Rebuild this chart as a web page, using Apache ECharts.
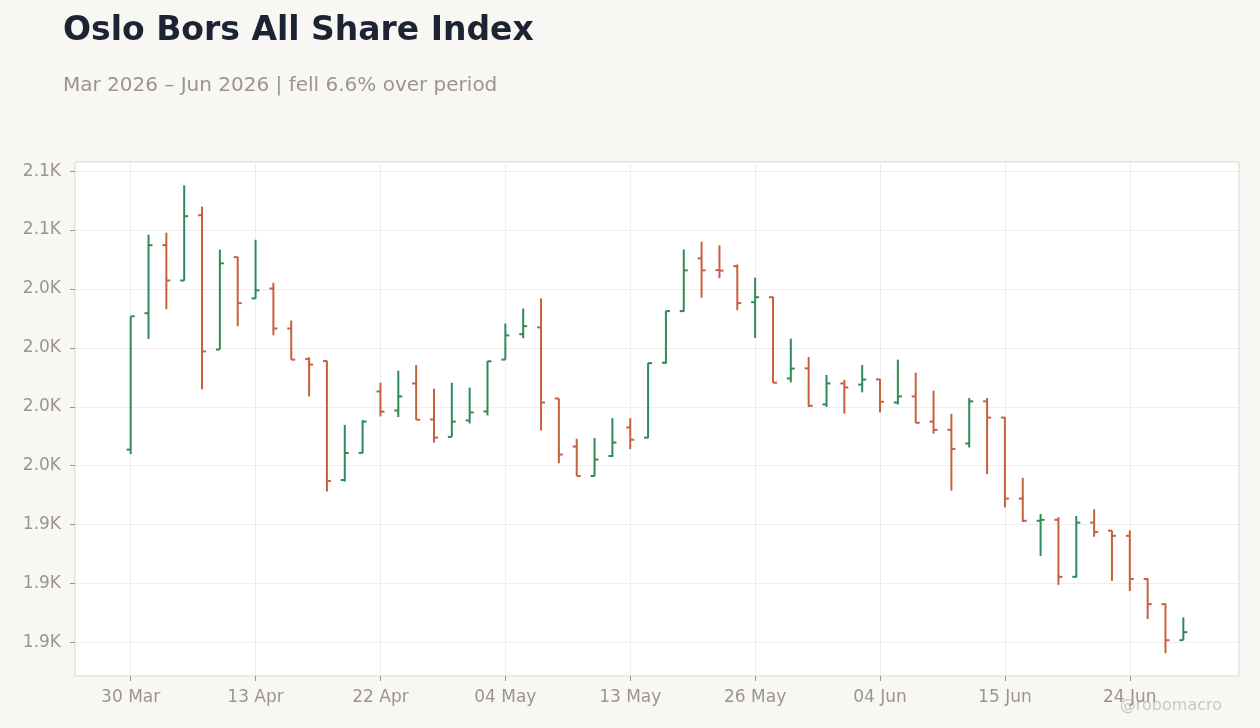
<!DOCTYPE html>
<html>
<head>
<meta charset="utf-8">
<title>Oslo Bors All Share Index</title>
<script src="https://cdn.jsdelivr.net/npm/echarts@6/dist/echarts.min.js"></script>
<style>
  html, body { margin: 0; padding: 0; background: #f8f7f4; }
  #ohlcChart { width: 1260px; height: 728px; }
</style>
</head>
<body>
<div id="ohlcChart"></div>
<script>
// trading days shown on the x axis
const dates = [
  '30 Mar', '31 Mar', '01 Apr', '07 Apr', '08 Apr', '09 Apr', '10 Apr',
  '13 Apr', '14 Apr', '15 Apr', '16 Apr', '17 Apr', '20 Apr', '21 Apr',
  '22 Apr', '23 Apr', '24 Apr', '27 Apr', '28 Apr', '29 Apr', '30 Apr',
  '04 May', '05 May', '06 May', '07 May', '08 May', '11 May', '12 May',
  '13 May', '15 May', '18 May', '19 May', '20 May', '21 May', '22 May',
  '26 May', '27 May', '28 May', '29 May', '01 Jun', '02 Jun', '03 Jun',
  '04 Jun', '05 Jun', '08 Jun', '09 Jun', '10 Jun', '11 Jun', '12 Jun',
  '15 Jun', '16 Jun', '17 Jun', '18 Jun', '19 Jun', '22 Jun', '23 Jun',
  '24 Jun', '25 Jun', '26 Jun', '29 Jun'
]
const opens = [
  1981.8, 2039.7, 2068.6, 2053.6, 2081.3, 2024.3, 2063.5, 2046.0, 2050.2, 2033.2,
  2020.3, 2019.4, 1968.9, 1980.4, 2006.5, 1998.4, 2009.9, 1994.6, 1987.2, 1994.2,
  1998.0, 2020.0, 2030.8, 2033.7, 2003.5, 1983.1, 1970.6, 1979.1, 1991.2, 1986.9,
  2018.7, 2040.6, 2063.0, 2058.0, 2059.7, 2044.4, 2046.5, 2012.0, 2016.3, 2001.0,
  2009.9, 2009.4, 2011.6, 2001.8, 2004.4, 1993.7, 1990.2, 1984.4, 2002.3, 1995.4,
  1961.0, 1951.6, 1952.0, 1927.8, 1950.8, 1947.4, 1945.2, 1926.9, 1916.2, 1900.9
]
const highs = [
  2038.4, 2073.1, 2073.9, 2094.0, 2085.0, 2066.7, 2063.7, 2070.9, 2052.6, 2036.6,
  2021.0, 2019.6, 1992.3, 1994.3, 2010.2, 2015.3, 2017.7, 2007.7, 2010.2, 2008.1,
  2019.4, 2035.3, 2041.7, 2046.0, 2003.5, 1986.4, 1986.7, 1995.2, 1995.2, 2018.6,
  2040.7, 2066.8, 2070.1, 2068.5, 2060.4, 2054.8, 2046.7, 2028.9, 2021.1, 2013.5,
  2011.4, 2017.7, 2011.8, 2020.0, 2014.5, 2006.8, 1997.0, 2003.7, 2003.7, 1995.6,
  1969.8, 1954.5, 1953.1, 1953.6, 1956.5, 1947.5, 1947.5, 1927.1, 1916.5, 1910.6
]
const lows = [
  1979.9, 2028.8, 2041.4, 2053.5, 2007.4, 2024.3, 2034.2, 2045.8, 2030.3, 2020.0,
  2004.4, 1964.0, 1968.2, 1980.3, 1995.9, 1995.6, 1994.5, 1984.8, 1987.2, 1992.9,
  1996.3, 2020.0, 2029.1, 1989.9, 1976.0, 1970.6, 1970.6, 1978.7, 1982.0, 1986.7,
  2018.2, 2040.4, 2046.3, 2054.6, 2041.0, 2029.2, 2010.1, 2010.3, 1999.9, 1999.9,
  1997.1, 2006.1, 1997.6, 2001.0, 1993.1, 1988.6, 1964.4, 1982.7, 1971.4, 1957.3,
  1951.1, 1936.7, 1924.4, 1927.5, 1944.8, 1926.1, 1921.8, 1909.9, 1895.4, 1900.9
]
const closes = [
  2038.4, 2068.6, 2053.6, 2080.9, 2023.5, 2060.9, 2044.0, 2049.4, 2033.2, 2020.0,
  2017.9, 1968.5, 1980.4, 1993.7, 1997.9, 2004.4, 1994.5, 1986.9, 1993.7, 1997.6,
  2019.3, 2030.3, 2034.2, 2001.8, 1979.7, 1970.6, 1977.6, 1984.8, 1986.0, 2018.5,
  2040.6, 2057.9, 2057.9, 2057.8, 2044.0, 2046.5, 2010.2, 2016.2, 2000.4, 2009.9,
  2008.2, 2011.5, 2002.1, 2004.4, 1993.2, 1990.2, 1982.1, 2002.3, 1995.4, 1961.0,
  1951.6, 1952.0, 1927.8, 1950.8, 1946.8, 1945.2, 1926.9, 1916.2, 1900.9, 1904.3
]
// axis ticks
const yTicks = [1900, 1925, 1950, 1975, 2000, 2025, 2050, 2075, 2100]
const xTicks = [0, 7, 14, 21, 28, 35, 42, 49, 56]

const UP = '#2e8b57'
const DOWN = '#c8603f'
const FONT = 'DejaVu Sans'

const ohlcData = dates.map((d, i) => [i, opens[i], closes[i], lows[i], highs[i]])

function renderOhlc(params, api) {
  const x = api.value(0)
  const o = api.coord([x, api.value(1)])
  const c = api.coord([x, api.value(2)])
  const l = api.coord([x, api.value(3)])
  const h = api.coord([x, api.value(4)])
  const color = api.value(2) >= api.value(1) ? UP : DOWN
  const style = { stroke: color, lineWidth: 2 }
  return {
    type: 'group',
    children: [
      { type: 'line', shape: { x1: h[0], y1: h[1], x2: l[0], y2: l[1] }, style: style },
      { type: 'line', shape: { x1: o[0] - 4, y1: o[1], x2: o[0], y2: o[1] }, style: style },
      { type: 'line', shape: { x1: c[0], y1: c[1], x2: c[0] + 4, y2: c[1] }, style: style }
    ]
  }
}

const chartOption = {
  backgroundColor: '#f8f7f4',
  animation: false,
  title: [
    {
      text: 'Oslo Bors All Share Index',
      left: 58,
      top: 10,
      textStyle: { fontFamily: FONT, fontSize: 33, fontWeight: 'bold', color: '#1c2333' }
    },
    {
      text: 'Mar 2026 \u2013 Jun 2026 | fell 6.6% over period',
      left: 58,
      top: 71,
      textStyle: { fontFamily: FONT, fontSize: 20, fontWeight: 'normal', color: '#9a9590' }
    }
  ],
  graphic: [
    {
      type: 'text',
      right: 38,
      bottom: 14,
      style: { text: '@robomacro', fill: '#cbc8c3', font: '16px "DejaVu Sans"' }
    }
  ],
  grid: {
    left: 75,
    right: 21,
    top: 162,
    bottom: 52,
    show: true,
    backgroundColor: '#ffffff',
    borderColor: '#ddd7d0',
    borderWidth: 1
  },
  xAxis: {
    type: 'value',
    min: -3.12,
    max: 62.12,
    axisLine: { show: false, onZero: false },
    axisTick: {
      show: true,
      length: 5,
      customValues: xTicks,
      lineStyle: { color: '#9a9590' }
    },
    axisLabel: {
      customValues: xTicks,
      margin: 13,
      fontFamily: FONT,
      fontSize: 17,
      color: '#9a9590',
      formatter: (v) => dates[Math.round(v)] || ''
    },
    splitLine: { show: true, lineStyle: { color: '#eeeeee' } }
  },
  yAxis: {
    type: 'value',
    min: 1885.7,
    max: 2103.9,
    axisLine: { show: false, onZero: false },
    axisTick: {
      show: true,
      length: 5,
      customValues: yTicks,
      lineStyle: { color: '#9a9590' }
    },
    axisLabel: {
      customValues: yTicks,
      margin: 14,
      fontFamily: FONT,
      fontSize: 17,
      color: '#9a9590',
      formatter: (v) => (v / 1000).toFixed(1) + 'K'
    },
    splitLine: { show: true, lineStyle: { color: '#eeeeee' } }
  },
  series: [
    {
      type: 'custom',
      name: 'Oslo Bors All Share Index',
      renderItem: renderOhlc,
      encode: { x: 0, y: [1, 2, 3, 4] },
      data: ohlcData
    }
  ]
}

const myChart = echarts.init(document.getElementById('ohlcChart'))
myChart.setOption(chartOption)
</script>
</body>
</html>
